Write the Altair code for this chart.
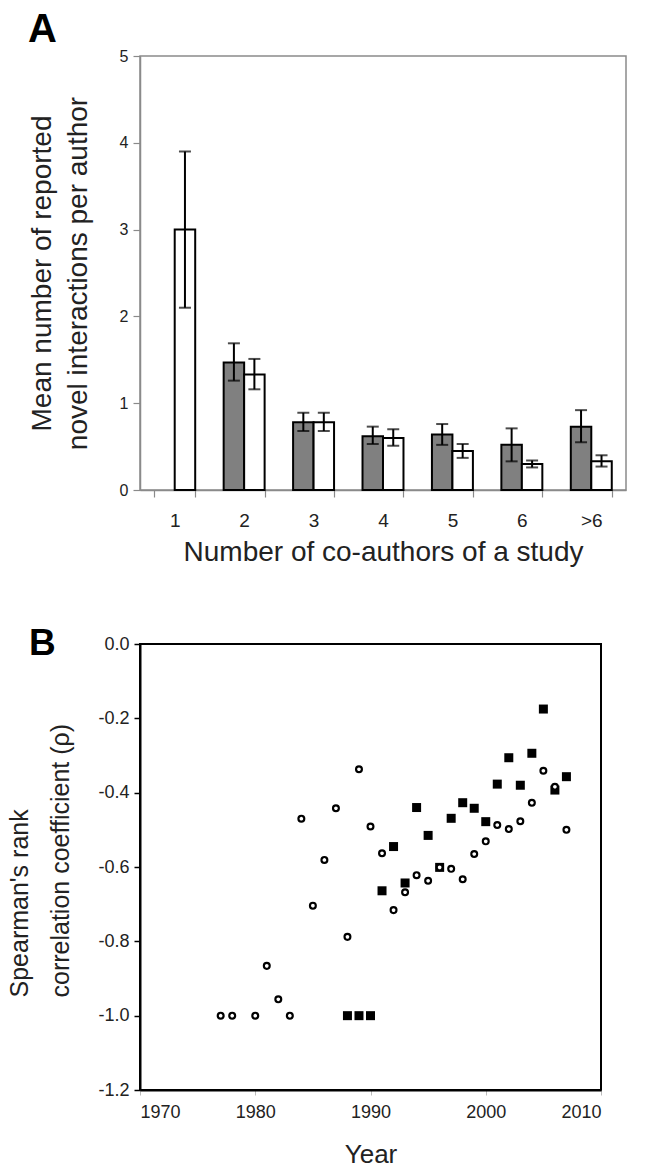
import altair as alt
import pandas as pd

# ---------------- Panel A data ----------------
cats = ["1", "2", "3", "4", "5", "6", ">6"]
gray_vals = [None, 1.47, 0.78, 0.62, 0.64, 0.52, 0.73]
gray_lo = [None, 1.26, 0.68, 0.53, 0.52, 0.33, 0.55]
gray_hi = [None, 1.69, 0.89, 0.73, 0.76, 0.71, 0.92]
white_vals = [3.00, 1.33, 0.78, 0.60, 0.45, 0.30, 0.33]
white_lo = [2.10, 1.16, 0.68, 0.51, 0.37, 0.26, 0.27]
white_hi = [3.90, 1.51, 0.89, 0.70, 0.53, 0.34, 0.40]

# ---------------- Panel B data ----------------
circle_years = [1977, 1978, 1980, 1981, 1982, 1983, 1984, 1985, 1986, 1987,
                1988, 1989, 1990, 1991, 1992, 1993, 1994, 1995, 1996, 1997,
                1998, 1999, 2000, 2001, 2002, 2003, 2004, 2005, 2006, 2007]
circle_rho = [-1.0, -1.0, -1.0, -0.866, -0.956, -1.0, -0.470, -0.704, -0.581, -0.442,
              -0.788, -0.337, -0.491, -0.563, -0.716, -0.668, -0.622, -0.637, -0.601, -0.605,
              -0.633, -0.565, -0.531, -0.487, -0.498, -0.477, -0.427, -0.341, -0.384, -0.500]
square_years = [1988, 1989, 1990, 1991, 1992, 1993, 1994, 1995, 1996, 1997,
                1998, 1999, 2000, 2001, 2002, 2003, 2004, 2005, 2006, 2007]
square_rho = [-1.0, -1.0, -1.0, -0.664, -0.545, -0.643, -0.440, -0.515, -0.601, -0.469,
              -0.427, -0.442, -0.478, -0.377, -0.306, -0.380, -0.294, -0.175, -0.393, -0.357]

FONT = "Liberation Sans"
TXT = "#222222"

rows = []
for i, c in enumerate(cats):
    if gray_vals[i] is not None:
        rows.append({"cat": c, "series": "g", "value": gray_vals[i], "lo": gray_lo[i], "hi": gray_hi[i]})
    rows.append({"cat": c, "series": "w", "value": white_vals[i], "lo": white_lo[i], "hi": white_hi[i]})
dfA = pd.DataFrame(rows)

A_GRAY = "#808080"
A_AXIS = "#8a8a8a"

A_W, A_H = 486, 434
B_W, B_H = 461, 446

xA = alt.X("cat:N", sort=cats,
           scale=alt.Scale(domain=cats, paddingInner=0.41, paddingOuter=0.205),
           axis=alt.Axis(title="Number of co-authors of a study", labelAngle=0,
                         tickBand="extent", tickSize=7, tickColor=A_AXIS, tickWidth=1.2,
                         domainColor=A_AXIS, domainWidth=1.5,
                         labelFont=FONT, labelFontSize=19, labelColor=TXT, labelPadding=14,
                         titleFont=FONT, titleFontSize=28, titleFontWeight="normal",
                         titleColor=TXT, titlePadding=8))
xoffA = alt.XOffset("series:N", scale=alt.Scale(domain=["g", "w"], paddingInner=0, paddingOuter=0))
axisYA = alt.Axis(values=[0, 1, 2, 3, 4, 5], format="d", grid=False,
                  tickSize=7, tickColor=A_AXIS, tickWidth=1.2, domainColor=A_AXIS, domainWidth=1.5,
                  labelFont=FONT, labelFontSize=16, labelColor=TXT, labelPadding=5,
                  title=["Mean number of reported", "novel interactions per author"],
                  titleFont=FONT, titleFontSize=28, titleFontWeight="normal",
                  titleColor=TXT, titleAngle=270, titleAlign="center", titleBaseline="top",
                  titleX=-112, titleY=A_H / 2, titleLineHeight=36)
scYA = alt.Scale(domain=[0, 5], nice=False)

bars = alt.Chart(dfA).mark_bar(stroke="black", strokeWidth=2).encode(
    x=xA, xOffset=xoffA,
    y=alt.Y("value:Q", scale=scYA, axis=axisYA),
    fill=alt.Fill("series:N", scale=alt.Scale(domain=["g", "w"], range=[A_GRAY, "white"]), legend=None),
)
err = alt.Chart(dfA).mark_rule(color="black", strokeWidth=2).encode(
    x=xA, xOffset=xoffA,
    y=alt.Y("lo:Q", scale=scYA, axis=axisYA), y2="hi:Q",
)
cap_lo = alt.Chart(dfA).mark_tick(color="black", thickness=2, size=12, orient="horizontal").encode(
    x=xA, xOffset=xoffA, y=alt.Y("lo:Q", scale=scYA, axis=axisYA))
cap_hi = alt.Chart(dfA).mark_tick(color="black", thickness=2, size=12, orient="horizontal").encode(
    x=xA, xOffset=xoffA, y=alt.Y("hi:Q", scale=scYA, axis=axisYA))

panelA = alt.layer(bars, err, cap_lo, cap_hi).properties(
    width=A_W, height=A_H,
    view=alt.ViewBackground(stroke=A_AXIS, strokeWidth=1.5),
    title=alt.TitleParams("A", anchor="start", frame="group", dx=-112, offset=-2,
                          fontSize=40, font=FONT, fontWeight="bold", color="black"),
)

# ---------------- Panel B ----------------
dfC = pd.DataFrame({"year": circle_years, "rho": circle_rho})
dfS = pd.DataFrame({"year": square_years, "rho": square_rho})

scXB = alt.Scale(domain=[1970, 2010], nice=False)
scYB = alt.Scale(domain=[-1.2, 0], nice=False)
axisXB = alt.Axis(values=[1970, 1980, 1990, 2000, 2010], format="d", grid=False,
                  tickSize=5, tickColor="#bbbbbb", domainColor="black", domainWidth=2,
                  labelFont=FONT, labelFontSize=18, labelColor=TXT, labelPadding=8,
                  title="Year", titleFont=FONT, titleFontSize=26, titleFontWeight="normal",
                  titleColor=TXT, titlePadding=20)
axisYB = alt.Axis(values=[0, -0.2, -0.4, -0.6, -0.8, -1.0, -1.2], grid=False,
                  labelExpr="(datum.value < -0.0001 ? '-' : '') + format(abs(datum.value), '.1f')",
                  tickSize=6, tickColor="black", tickWidth=1.5, domainColor="black", domainWidth=2,
                  labelFont=FONT, labelFontSize=18, labelColor=TXT, labelPadding=5,
                  title=["Spearman's rank", "correlation coefficient (\u03c1)"],
                  titleFont=FONT, titleFontSize=25, titleFontWeight="normal",
                  titleColor=TXT, titleAngle=270, titleAlign="left", titleBaseline="top",
                  titleX=-133, titleY=353, titleLineHeight=41)

squares = alt.Chart(dfS).mark_point(shape="square", filled=True, color="black", size=81, opacity=1).encode(
    x=alt.X("year:Q", scale=scXB, axis=axisXB),
    y=alt.Y("rho:Q", scale=scYB, axis=axisYB),
)
circles = alt.Chart(dfC).mark_point(shape="circle", fill="white", stroke="black", strokeWidth=2.2,
                                     size=34, opacity=1, fillOpacity=1).encode(
    x=alt.X("year:Q", scale=scXB, axis=axisXB),
    y=alt.Y("rho:Q", scale=scYB, axis=axisYB),
)

panelB = alt.layer(squares, circles).properties(
    width=B_W, height=B_H,
    view=alt.ViewBackground(stroke="black", strokeWidth=2),
    title=alt.TitleParams("B", anchor="start", frame="group", dx=-111, offset=-28,
                          fontSize=37, font=FONT, fontWeight="bold", color="black"),
)

chart = alt.vconcat(panelA, panelB, spacing=57).properties(
    padding={"left": 6, "top": 9, "right": 5, "bottom": 2},
    background="white",
).configure_view(stroke=None)

chart.save("out.html", embed_options={"renderer": "svg", "actions": False})
